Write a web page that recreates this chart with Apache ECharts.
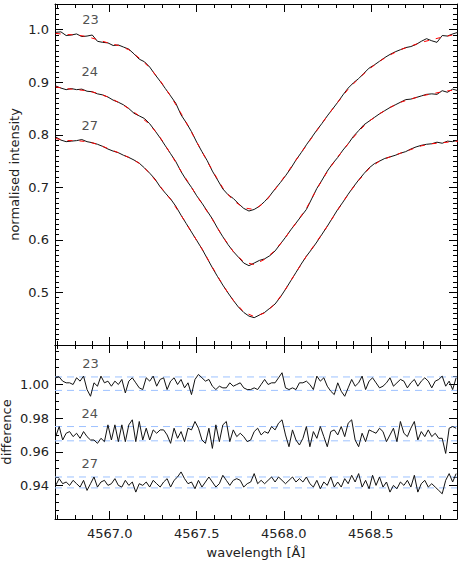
<!DOCTYPE html>
<html>
<head>
<meta charset="utf-8">
<script src="https://cdn.jsdelivr.net/npm/echarts@6/dist/echarts.min.js"></script>
<style>
html,body{margin:0;padding:0;background:#fff;}
#chart{width:463px;height:578px;}
</style>
</head>
<body>
<div id="chart"></div>
<script>
// ---------------- data ----------------
// wavelength sampling grids (start, step, count)
const GRID_OBS = [4566.69, 0.03, 78];
const GRID_FIT = [4566.69, 0.06, 40];
const GRID_DIFF = [4566.69, 0.02, 116];

const seriesNames = ['23', '24', '27'];

// observed normalised intensity profiles
const obs23 = [0.995,0.996,0.989,0.990,0.992,0.987,0.988,0.990,0.978,0.976,
0.975,0.970,0.971,0.967,0.963,0.954,0.944,0.939,0.929,0.915,
0.902,0.888,0.874,0.860,0.838,0.823,0.806,0.786,0.768,0.751,
0.731,0.714,0.697,0.686,0.679,0.669,0.660,0.655,0.658,0.664,
0.673,0.684,0.697,0.709,0.722,0.736,0.752,0.766,0.781,0.795,
0.809,0.822,0.836,0.849,0.862,0.876,0.889,0.899,0.907,0.917,
0.927,0.933,0.940,0.947,0.953,0.958,0.962,0.966,0.968,0.972,
0.978,0.983,0.979,0.976,0.989,0.988,0.992,0.995];
const obs24 = [0.893,0.889,0.886,0.888,0.886,0.887,0.883,0.882,0.878,0.876,
0.872,0.866,0.862,0.857,0.850,0.841,0.836,0.831,0.821,0.808,
0.794,0.779,0.764,0.749,0.730,0.714,0.700,0.684,0.670,0.655,
0.640,0.622,0.606,0.591,0.578,0.567,0.556,0.551,0.556,0.561,
0.564,0.570,0.579,0.592,0.605,0.619,0.632,0.645,0.658,0.678,
0.698,0.714,0.731,0.745,0.757,0.771,0.783,0.797,0.808,0.819,
0.826,0.833,0.840,0.846,0.852,0.857,0.862,0.867,0.868,0.871,
0.874,0.877,0.878,0.877,0.884,0.881,0.887,0.884];
const obs27 = [0.796,0.790,0.787,0.788,0.789,0.791,0.787,0.785,0.782,0.778,
0.773,0.769,0.766,0.761,0.757,0.752,0.746,0.737,0.727,0.716,
0.701,0.689,0.678,0.664,0.647,0.631,0.615,0.599,0.583,0.565,
0.547,0.530,0.514,0.499,0.485,0.472,0.462,0.455,0.452,0.457,
0.462,0.470,0.478,0.491,0.506,0.522,0.538,0.554,0.569,0.582,
0.596,0.611,0.626,0.642,0.658,0.672,0.687,0.701,0.714,0.726,
0.737,0.745,0.750,0.755,0.758,0.761,0.765,0.768,0.773,0.777,
0.780,0.782,0.783,0.786,0.784,0.788,0.787,0.790];

// fitted profiles
const fit23 = [0.993,0.991,0.990,0.987,0.981,0.975,0.970,0.962,0.946,0.928,
0.903,0.874,0.841,0.805,0.768,0.732,0.699,0.675,0.661,0.658,
0.671,0.696,0.723,0.752,0.780,0.808,0.836,0.862,0.887,0.907,
0.925,0.940,0.952,0.962,0.969,0.976,0.981,0.986,0.990,0.992];
const fit24 = [0.891,0.888,0.886,0.884,0.879,0.872,0.862,0.850,0.836,0.820,
0.795,0.764,0.731,0.700,0.669,0.639,0.606,0.578,0.558,0.553,
0.563,0.580,0.605,0.632,0.660,0.697,0.730,0.758,0.783,0.807,
0.826,0.840,0.852,0.862,0.868,0.874,0.878,0.882,0.885,0.887];
const fit27 = [0.793,0.789,0.789,0.787,0.782,0.774,0.766,0.757,0.746,0.727,
0.702,0.677,0.647,0.615,0.583,0.548,0.514,0.485,0.463,0.454,
0.461,0.478,0.506,0.538,0.569,0.597,0.626,0.657,0.687,0.713,
0.736,0.750,0.758,0.765,0.772,0.779,0.783,0.785,0.787,0.789];

// differences (offset)
const diff23 = [1.004,1.0045,1.002,1.001,1.001,1.000,1.004,1.002,1.005,0.997,
0.993,1.001,0.999,1.005,1.001,1.002,0.999,1.002,1.000,1.003,
0.995,1.002,1.004,1.001,0.998,0.997,1.004,1.002,1.005,0.999,
1.003,1.004,0.997,1.002,1.004,1.000,1.003,0.998,1.001,0.994,
1.003,1.006,1.004,1.002,1.003,0.999,0.997,0.999,0.998,0.998,
1.001,0.999,1.000,1.001,0.998,0.997,
0.997,0.998,0.997,1.000,1.003,1.000,1.001,1.001,1.004,1.007,
0.998,0.997,0.998,0.997,1.001,1.001,1.002,1.000,0.997,1.005,
1.002,1.004,0.999,0.996,0.994,1.001,0.996,0.993,0.998,1.003,
0.999,1.001,1.005,0.997,1.002,1.004,1.001,0.998,0.999,1.001,
1.004,0.999,1.001,1.003,1.002,0.998,1.001,1.003,0.999,1.002,
1.004,1.002,0.998,1.002,1.003,1.005,0.999,1.002,0.997,1.004];
const diff24 = [0.969,0.975,0.967,0.971,0.972,0.969,0.971,0.968,0.972,0.969,
0.967,0.967,0.965,0.968,0.966,0.976,0.967,0.976,0.966,0.976,
0.966,0.976,0.979,0.966,0.978,0.967,0.974,0.967,0.973,0.971,
0.973,0.973,0.970,0.965,0.974,0.968,0.972,0.966,0.974,0.973,
0.978,0.974,0.967,0.965,0.974,0.962,0.976,0.966,0.976,0.978,
0.966,0.973,0.969,0.971,0.969,0.966,
0.967,0.972,0.974,0.970,0.972,0.971,0.975,0.973,0.977,0.979,
0.970,0.963,0.973,0.967,0.964,0.968,0.975,0.963,0.972,0.968,
0.975,0.969,0.963,0.972,0.973,0.970,0.975,0.969,0.977,0.979,
0.967,0.963,0.971,0.966,0.973,0.972,0.971,0.974,0.972,0.966,
0.970,0.974,0.966,0.978,0.971,0.969,0.974,0.978,0.967,0.972,
0.969,0.973,0.969,0.971,0.968,0.968,0.959,0.974,0.975,0.974];
const diff27 = [0.940,0.944,0.941,0.942,0.940,0.943,0.941,0.939,0.943,0.937,
0.941,0.945,0.939,0.942,0.943,0.940,0.941,0.944,0.940,0.939,
0.943,0.940,0.942,0.936,0.941,0.940,0.942,0.939,0.943,0.941,
0.939,0.942,0.944,0.939,0.943,0.945,0.948,0.944,0.941,0.942,
0.938,0.943,0.939,0.942,0.945,0.942,0.939,0.941,0.946,0.943,
0.940,0.943,0.944,0.943,0.939,0.941,
0.942,0.947,0.941,0.943,0.941,0.943,0.945,0.942,0.945,0.943,
0.941,0.943,0.945,0.942,0.944,0.942,0.945,0.941,0.939,0.943,
0.938,0.942,0.940,0.945,0.939,0.942,0.939,0.944,0.941,0.946,
0.942,0.947,0.939,0.943,0.938,0.946,0.940,0.945,0.939,0.942,
0.936,0.940,0.938,0.942,0.940,0.943,0.939,0.946,0.936,0.941,
0.943,0.939,0.941,0.939,0.937,0.935,0.943,0.947,0.942,0.947];

// scatter bands (lower, upper) of each difference
const band23 = [0.9965, 1.0045];
const band24 = [0.9665, 0.9750];
const band27 = [0.9385, 0.9450];

// label anchors in data coordinates
const labelWave = [4566.89, 4566.885, 4566.885];
const labelTopVal = [1.0192, 0.9206, 0.8177];
const labelBotVal = [1.0125, 0.9827, 0.9532];

// axis ranges and ticks
const X_RANGE = [4566.686, 4568.995];
const Y_TOP_RANGE = [0.40, 1.049];
const Y_BOT_RANGE = [0.92, 1.0235];
const xMajor = [4567.0, 4567.5, 4568.0, 4568.5];
const xMinor = [4566.7,4566.8,4566.9,4567.1,4567.2,4567.3,4567.4,4567.6,4567.7,4567.8,4567.9,
                4568.1,4568.2,4568.3,4568.4,4568.6,4568.7,4568.8,4568.9];
const yTopMajor = [0.5, 0.6, 0.7, 0.8, 0.9, 1.0];
const yBotMajor = [0.94, 0.96, 0.98, 1.00];

// ---------------- build ----------------
function makeGrid(g) { const a = []; for (let i = 0; i < g[2]; i++) a.push(+(g[0] + i * g[1]).toFixed(3)); return a; }
function minorBetween(lo, hi, step, majors) {
  const a = []; const n = Math.round((hi - lo) / step);
  for (let i = 0; i <= n; i++) { const v = +(lo + i * step).toFixed(4); if (!majors.some(m => Math.abs(m - v) < 1e-6)) a.push(v); }
  return a;
}
const yTopMinor = minorBetween(0.41, 1.04, 0.01, yTopMajor);
const yBotMinor = minorBetween(0.925, 1.02, 0.005, yBotMajor);

const wObs = makeGrid(GRID_OBS), wFit = makeGrid(GRID_FIT), wDiff = makeGrid(GRID_DIFF);
const zip = (xs, ys) => ys.map((y, i) => [xs[i], y]);

const FONT = 'DejaVu Sans';
const TXT = '#222';
const MAJ = 8, MIN = 4;

function axis(gridIndex, position, range, ticks, len, showLine, extra) {
  return Object.assign({
    type: 'value', gridIndex: gridIndex, position: position, min: range[0], max: range[1],
    axisLine: { show: showLine, onZero: false, lineStyle: { color: '#000', width: 1 } },
    axisTick: { show: true, inside: true, length: len, customValues: ticks, lineStyle: { color: '#000', width: 1 } },
    axisLabel: { show: false },
    splitLine: { show: false },
    minorTick: { show: false },
    nameMoveOverlap: false,
    silent: true
  }, extra || {});
}

const xAxes = [
  axis(0, 'bottom', X_RANGE, xMajor, MAJ, true),
  axis(0, 'bottom', X_RANGE, xMinor, MIN, false),
  axis(0, 'top', X_RANGE, xMajor, MAJ, true),
  axis(0, 'top', X_RANGE, xMinor, MIN, false),
  axis(1, 'bottom', X_RANGE, xMajor, MAJ, true, {
    axisLabel: { show: true, customValues: xMajor, formatter: v => v.toFixed(1), margin: 8,
                 fontFamily: FONT, fontSize: 13, color: TXT },
    name: 'wavelength [Å]', nameLocation: 'middle', nameGap: 27,
    nameTextStyle: { fontFamily: FONT, fontSize: 13, color: TXT }
  }),
  axis(1, 'bottom', X_RANGE, xMinor, MIN, false),
  axis(1, 'top', X_RANGE, xMajor, MAJ, true),
  axis(1, 'top', X_RANGE, xMinor, MIN, false)
];
const yAxes = [
  axis(0, 'left', Y_TOP_RANGE, yTopMajor, MAJ, true, {
    axisLabel: { show: true, customValues: yTopMajor, formatter: v => v.toFixed(1), margin: 6,
                 fontFamily: FONT, fontSize: 13, color: TXT },
    name: 'normalised intensity', nameLocation: 'middle', nameGap: 34,
    nameTextStyle: { fontFamily: FONT, fontSize: 13, color: TXT }
  }),
  axis(0, 'left', Y_TOP_RANGE, yTopMinor, MIN, false),
  axis(0, 'right', Y_TOP_RANGE, yTopMajor, MAJ, true),
  axis(0, 'right', Y_TOP_RANGE, yTopMinor, MIN, false),
  axis(1, 'left', Y_BOT_RANGE, yBotMajor, MAJ, true, {
    axisLabel: { show: true, customValues: yBotMajor, formatter: v => v.toFixed(2), margin: 6,
                 fontFamily: FONT, fontSize: 13, color: TXT },
    name: 'difference', nameLocation: 'middle', nameGap: 42,
    nameTextStyle: { fontFamily: FONT, fontSize: 13, color: TXT }
  }),
  axis(1, 'left', Y_BOT_RANGE, yBotMinor, MIN, false),
  axis(1, 'right', Y_BOT_RANGE, yBotMajor, MAJ, true),
  axis(1, 'right', Y_BOT_RANGE, yBotMinor, MIN, false)
];

function line(xi, yi, data, color, width, type, z) {
  return { type: 'line', xAxisIndex: xi, yAxisIndex: yi, data: data, symbol: 'none', showSymbol: false,
           lineStyle: { color: color, width: width, type: type }, z: z, silent: true, animation: false, clip: true };
}
function labels(xi, yi, vals) {
  return { type: 'scatter', xAxisIndex: xi, yAxisIndex: yi, symbolSize: 1, silent: true, animation: false,
           itemStyle: { color: 'rgba(0,0,0,0)' },
           label: { show: true, position: 'inside', formatter: p => p.name, fontFamily: FONT, fontSize: 13, color: TXT },
           data: seriesNames.map((n, i) => ({ name: n, value: [labelWave[i], vals[i]] })), z: 5 };
}

const obs = [obs23, obs24, obs27], fits = [fit23, fit24, fit27], diffs = [diff23, diff24, diff27];
const bands = [band23, band24, band27];
const series = [];
obs.forEach(o => series.push(line(0, 0, zip(wObs, o), '#111', 1, 'solid', 2)));
fits.forEach(f => series.push(line(0, 0, zip(wFit, f), '#ff0000', 1, [5, 7], 3)));
series.push(labels(0, 0, labelTopVal));
bands.forEach(b => b.forEach(v => series.push(line(4, 4, [[X_RANGE[0], v], [X_RANGE[1], v]], '#9ec2ff', 1, [7, 5], 1))));
diffs.forEach(d => series.push(line(4, 4, zip(wDiff, d), '#111', 1, 'solid', 2)));
series.push(labels(4, 4, labelBotVal));

const chart = echarts.init(document.getElementById('chart'), null, { renderer: 'svg' });
chart.setOption({
  animation: false,
  backgroundColor: '#fff',
  grid: [
    { left: 55, top: 4, width: 402, height: 341, containLabel: false, outerBoundsMode: 'none' },
    { left: 55, top: 345, width: 402, height: 174, containLabel: false, outerBoundsMode: 'none' }
  ],
  xAxis: xAxes,
  yAxis: yAxes,
  series: series
});
</script>
</body>
</html>
